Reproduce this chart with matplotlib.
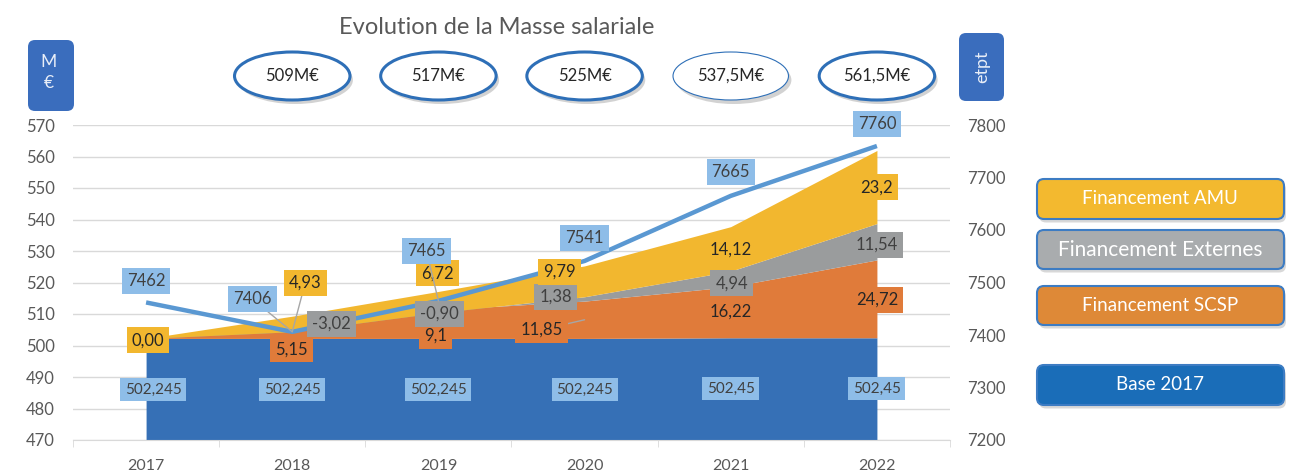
import numpy as np
import matplotlib
matplotlib.use("Agg")
import matplotlib.pyplot as plt
import matplotlib.transforms as mtransforms
from matplotlib.patches import Ellipse, FancyBboxPatch

plt.rcParams['font.family'] = ['Lato', 'DejaVu Sans']

# data
years = ["2017", "2018", "2019", "2020", "2021", "2022"]
base = [502.245, 502.245, 502.245, 502.245, 502.45, 502.45]
scsp = [0.0, 5.15, 9.1, 11.85, 16.22, 24.72]
externes = [0.0, -3.02, -0.90, 1.38, 4.94, 11.54]
amu = [0.0, 4.93, 6.72, 9.79, 14.12, 23.2]
etpt = [7462, 7406, 7465, 7541, 7665, 7760]
totals = ["509M€", "517M€", "525M€", "537,5M€", "561,5M€"]

base_txt = ["502,245", "502,245", "502,245", "502,245", "502,45", "502,45"]
scsp_txt = [None, "5,15", "9,1", "11,85", "16,22", "24,72"]
ext_txt = [None, "-3,02", "-0,90", "1,38", "4,94", "11,54"]
amu_txt = ["0,00", "4,93", "6,72", "9,79", "14,12", "23,2"]

c_base = "#3670B6"
c_scsp = "#E07B3A"
c_ext = "#9A9C9D"
c_amu = "#F2B72F"
c_line = "#5A98D2"
c_lbl = "#8EBDE8"

x = np.arange(len(years))
b = np.array(base)
s_top = b + np.array(scsp)
e_top = s_top + np.array(externes)
a_top = e_top + np.array(amu)

fig = plt.figure(figsize=(13.01, 4.71), dpi=100)
ax = fig.add_axes([73/1301, 31/471, 877/1301, 315/471])

ax.fill_between(x, 470, b, color=c_base, lw=0, zorder=2)
ax.fill_between(x, b, s_top, color=c_scsp, lw=0, zorder=2)
ax.fill_between(x, s_top, e_top, color=c_ext, lw=0, zorder=2)
ax.fill_between(x, e_top, a_top, color=c_amu, lw=0, zorder=2)

ax.set_xlim(-0.5, 5.5)
ax.set_ylim(470, 570)
ax.set_yticks(range(470, 571, 10))
ax.set_xticks(x)
ax.set_xticklabels(years)
ax.set_xticks(np.arange(-0.5, 6, 1), minor=True)
ax.grid(axis="y", color="#D9D9D9", lw=1, zorder=0)
for sp in ["top", "left", "right"]:
    ax.spines[sp].set_visible(False)
ax.spines["bottom"].set_color("#D9D9D9")
ax.tick_params(axis="x", which="major", length=0, pad=14, labelsize=11.5, labelcolor="#595959")
ax.tick_params(axis="x", which="minor", length=5, color="#D9D9D9")
ax.tick_params(axis="y", length=0, pad=13, labelsize=12, labelcolor="#595959")

ax2 = ax.twinx()
ax2.set_ylim(7200, 7800)
ax2.set_yticks(range(7200, 7801, 100))
for sp in ax2.spines.values():
    sp.set_visible(False)
ax2.tick_params(axis="y", length=0, pad=12, labelsize=12, labelcolor="#595959")
ax2.plot(x, etpt, color=c_line, lw=3.2, zorder=3, solid_capstyle="butt")


def label(xi, yi, text, dx, dy, fc, tc="#262626", trans=None, leader=False, size=12):
    arrow = None
    if leader:
        arrow = dict(arrowstyle="-", color="#A6A6A6", lw=1, shrinkA=0, shrinkB=0)
    ax2.annotate(text, xy=(xi, yi), xycoords=trans or ax.transData,
                 xytext=(dx, dy), textcoords="offset pixels",
                 ha="center", va="center", fontsize=size, color=tc, zorder=5,
                 bbox=dict(boxstyle="square,pad=0.3", fc=fc, ec="none"),
                 arrowprops=arrow, annotation_clip=False)


# base labels
for i in x:
    label(i, b[i], base_txt[i], 7 if i == 0 else 0, -51, c_lbl, "#404040", size=11)

# SCSP labels
scsp_off = [None, (-1, -27), (-3, -26), (-43, -10), (0, -25), (0, -40)]
for i in x:
    if scsp_txt[i] is None:
        continue
    if i == 3:
        label(i, (b[i] + s_top[i]) / 2, scsp_txt[i], *scsp_off[i], c_scsp, leader=True)
    else:
        label(i, s_top[i], scsp_txt[i], *scsp_off[i], c_scsp)

# Externes labels
ext_off = [None, (39, 8), (1, -1), (-29, 0), (1, -12), (0, -21)]
for i in x:
    if ext_txt[i] is None:
        continue
    label(i, e_top[i], ext_txt[i], *ext_off[i], c_ext, "#404040")

# AMU labels
amu_off = [(2, -2), (13, 49), (-1, 18), (-25, -6), (0, -23), (0, -37)]
for i in x:
    if i == 1:
        label(i, e_top[i], amu_txt[i], *amu_off[i], c_amu, leader=True)
    else:
        label(i, a_top[i], amu_txt[i], *amu_off[i], c_amu)

# etpt labels
line_off = [(0, 21), (-40, 33), (-12, 50), (0, 23), (0, 24), (0, 22)]
for i in x:
    label(i, etpt[i], str(etpt[i]), *line_off[i], c_lbl, "#404040",
          trans=ax2.transData, leader=i in (1, 2))

# title
fig.text(497/1301, 1 - 27/471, "Evolution de la Masse salariale",
         ha="center", va="center", fontsize=17, color="#595959")

# total ovals above 2018..2022
blend = mtransforms.blended_transform_factory(ax.transData, fig.transFigure)
oy = 1 - 76/471
for k, t in enumerate(totals):
    xi = k + 1
    fig.patches.append(Ellipse((xi + 0.02, oy - 4/471), 0.79, 48/471, transform=blend,
                               fc="#7F7F7F", ec="none", alpha=0.35, figure=fig))
    fig.patches.append(Ellipse((xi, oy), 0.79, 48/471, transform=blend, fc="white",
                               ec="#2E6FB7", lw=0.8 if k == 3 else 2.2, figure=fig))
    fig.text(xi, oy, t, transform=blend, ha="center", va="center",
             fontsize=12, color="#262626")


def pbox(x0, y0, x1, y1, fc, ec=None, shadow=False, r=0.07):
    tr = fig.dpi_scale_trans
    if shadow:
        fig.patches.append(FancyBboxPatch((x0/100 + 0.02, (471 - y1)/100 - 0.035),
                                          (x1 - x0)/100, (y1 - y0)/100,
                                          boxstyle=f"round,pad=0,rounding_size={r}",
                                          transform=tr, fc="#808080", ec="none",
                                          alpha=0.3, figure=fig))
    fig.patches.append(FancyBboxPatch((x0/100, (471 - y1)/100), (x1 - x0)/100, (y1 - y0)/100,
                                      boxstyle=f"round,pad=0,rounding_size={r}",
                                      transform=tr, fc=fc, ec=ec or "none",
                                      lw=1.5, figure=fig))


# axis unit boxes
pbox(28, 40, 74, 111, "#3A6DBD")
fig.text(49/1301, 1 - 62/471, "M", ha="center", va="center", fontsize=12.5, color="#E8EEF8")
fig.text(49/1301, 1 - 83/471, "€", ha="center", va="center", fontsize=12.5, color="#E8EEF8")
pbox(959, 33, 1004, 101, "#3A6DBD")
fig.text(982/1301, 1 - 67/471, "etpt", ha="center", va="center", rotation=90,
         fontsize=13, color="#E8EEF8")

# legend boxes
legend = [("Financement AMU", "#F3B92F", 179, 219, 13.5),
          ("Financement Externes", "#A9ACAE", 230, 269, 15),
          ("Financement SCSP", "#DE8937", 286, 325, 13.5),
          ("Base 2017", "#1A6DB8", 365, 405, 13.5)]
for name, col, y0, y1, fs in legend:
    pbox(1037, y0, 1284, y1, col, ec="#3D7CC3", shadow=True)
    fig.text(1160/1301, 1 - (y0 + y1)/2/471, name, ha="center", va="center",
             fontsize=fs, color="white")

fig.savefig("out.png", dpi=100)
